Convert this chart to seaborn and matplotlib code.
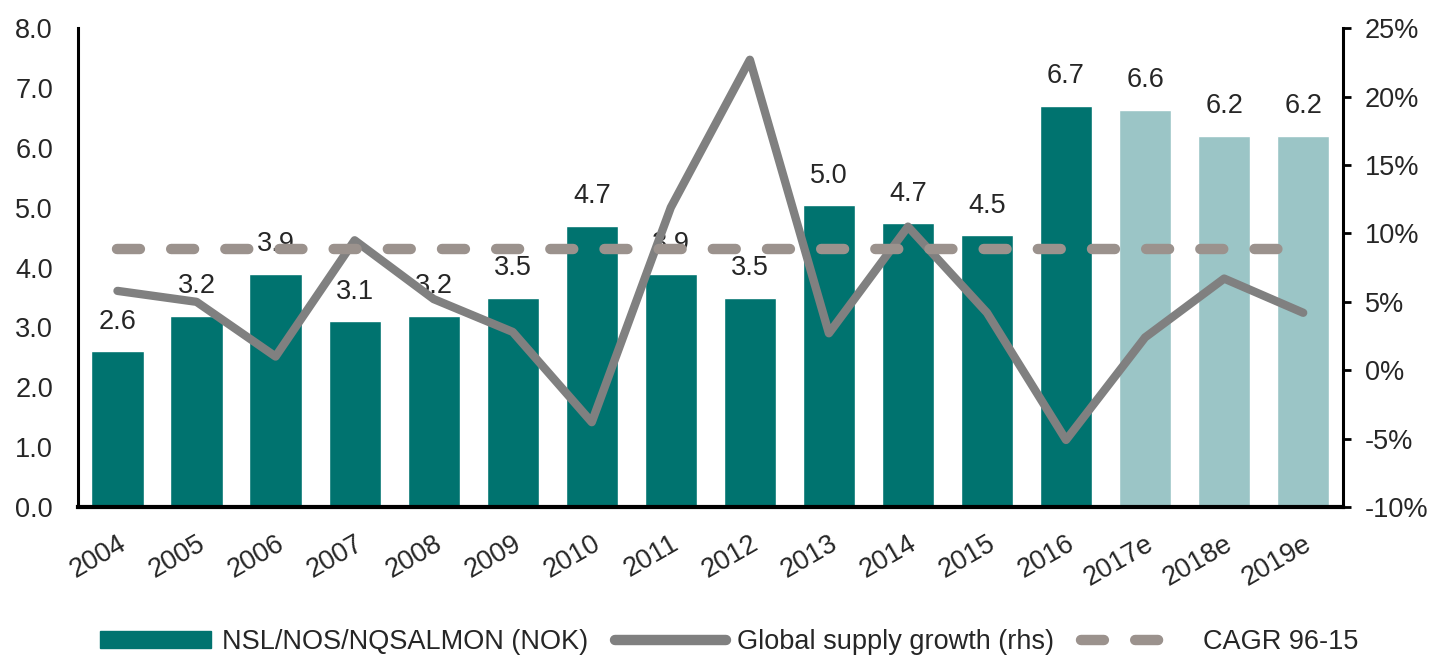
import matplotlib
matplotlib.use("Agg")
import matplotlib.pyplot as plt
import seaborn as sns
import numpy as np
import pandas as pd
from matplotlib.patches import Patch
from matplotlib.lines import Line2D

years = ["2004", "2005", "2006", "2007", "2008", "2009", "2010", "2011",
         "2012", "2013", "2014", "2015", "2016", "2017e", "2018e", "2019e"]
price_nok = [2.6, 3.2, 3.9, 3.1, 3.2, 3.5, 4.7, 3.9,
             3.5, 5.04, 4.74, 4.54, 6.7, 6.64, 6.2, 6.2]
supply_growth = [5.8, 5.0, 1.0, 9.5, 5.2, 2.8, -3.8, 11.9,
                 22.7, 2.7, 10.5, 4.2, -5.1, 2.4, 6.7, 4.2]
cagr_96_15 = [8.85] * len(years)
is_estimate = [False] * 13 + [True] * 3

DARK = "#00736F"
LIGHT = "#9BC5C6"
LINE = "#808080"
DASH = "#9B928D"
TXT = "#262626"
FS = 19.5
DASH_PAT = [2.2, 3.0]

sns.set_theme(style="white")
plt.rcParams["font.family"] = ["Liberation Sans", "DejaVu Sans"]

df = pd.DataFrame({"year": years, "price": price_nok,
                   "growth": supply_growth, "cagr": cagr_96_15,
                   "est": ["e" if e else "a" for e in is_estimate]})
df["pos"] = np.arange(len(df))

fig = plt.figure(figsize=(14.33, 6.58), dpi=100)
ax = fig.add_axes([0.0544, 0.2295, 0.8826, 0.7275])

sns.barplot(data=df, x="year", y="price", hue="est",
            palette={"a": DARK, "e": LIGHT}, dodge=False, width=0.66,
            legend=False, ax=ax, saturation=1)

for p, v in zip(df["pos"], df["price"]):
    ax.annotate(f"{v:.1f}", (p, v), xytext=(0, 12), textcoords="offset points",
                ha="center", va="bottom", fontsize=FS, color=TXT)

ax.set_ylim(0, 8)
ax.set_yticks(np.arange(0, 8.01, 1.0))
ax.set_yticklabels([f"{t:.1f}" for t in np.arange(0, 8.01, 1.0)])
ax.set_xlim(-0.5, len(years) - 0.5)
ax.set_xlabel("")
ax.set_ylabel("")
ax.tick_params(axis="y", length=0, pad=18, labelsize=FS, labelcolor=TXT)
ax.tick_params(axis="x", length=0, pad=17, labelsize=FS, labelcolor=TXT)
for lab in ax.get_xticklabels():
    lab.set_rotation(30)
    lab.set_ha("right")
    lab.set_rotation_mode("anchor")

ax2 = ax.twinx()
sns.lineplot(data=df, x="pos", y="growth", color=LINE, linewidth=6,
             ax=ax2, legend=False)
sns.lineplot(data=df, x="pos", y="cagr", color=DASH, linewidth=7.5,
             ax=ax2, legend=False)
ax2.lines[-1].set_dashes(DASH_PAT)
ax2.lines[-1].set_dash_capstyle("round")
ax2.set_ylim(-10, 25)
ax2.set_yticks(np.arange(-10, 26, 5))
ax2.set_yticklabels([f"{t}%" for t in range(-10, 26, 5)])
ax2.set_xlim(-0.5, len(years) - 0.5)
ax2.set_xlabel("")
ax2.set_ylabel("")
ax2.tick_params(axis="y", length=6, width=2, color="black", pad=10,
                labelsize=FS, labelcolor=TXT, right=True)

for a in (ax, ax2):
    a.spines["top"].set_visible(False)
    for s in ("left", "right", "bottom"):
        a.spines[s].set_color("black")
ax.spines["left"].set_linewidth(2.2)
ax.spines["bottom"].set_linewidth(3)
ax.spines["right"].set_visible(False)
ax2.spines["left"].set_visible(False)
ax2.spines["bottom"].set_visible(False)
ax2.spines["right"].set_linewidth(2.2)

handles = [
    Patch(facecolor=DARK, edgecolor=DARK),
    Line2D([0], [0], color=LINE, linewidth=7.5),
    Line2D([0], [0], color=DASH, linewidth=7.5,
           dashes=[2.2, 3.0, 2.2, 20], dash_capstyle="round"),
]
labels = ["NSL/NOS/NQSALMON (NOK)", "Global supply growth (rhs)", "CAGR 96-15"]
fig.legend(handles, labels, loc="center", bbox_to_anchor=(0.509, 0.024),
           ncol=3, frameon=False, fontsize=FS, handlelength=4.1,
           handleheight=0.55, columnspacing=1.0, handletextpad=0.4,
           labelcolor=TXT, borderaxespad=0, borderpad=0)

fig.savefig("out.png", dpi=100)
